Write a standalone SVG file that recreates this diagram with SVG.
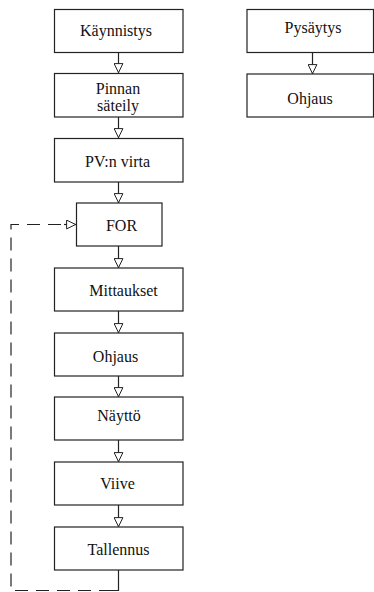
<svg xmlns="http://www.w3.org/2000/svg" width="374" height="592" viewBox="0 0 374 592">
<style>
.box{fill:#fff;stroke:#222;stroke-width:1.2}
.t{font-family:"Liberation Serif","Times New Roman",serif;font-size:16px;fill:#111;text-anchor:middle}
.c{fill:none;stroke:#222;stroke-width:1.2}
.d{fill:none;stroke:#222;stroke-width:1.2;stroke-dasharray:13 8}
</style>
<defs>
<marker id="ah" viewBox="0 0 10 10" refX="10" refY="5" markerWidth="10" markerHeight="10" markerUnits="userSpaceOnUse" orient="auto">
<path d="M0.6,0.6 L9.6,5 L0.6,9.4 Z" fill="#fff" stroke="#222" stroke-width="1"/>
</marker>
</defs>
<g id="connectors">
<line class="c" x1="118.5" y1="52" x2="118.5" y2="73" marker-end="url(#ah)"/>
<line class="c" x1="118.5" y1="117" x2="118.5" y2="138" marker-end="url(#ah)"/>
<line class="c" x1="118.5" y1="182" x2="118.5" y2="203" marker-end="url(#ah)"/>
<line class="c" x1="118.5" y1="246" x2="118.5" y2="268" marker-end="url(#ah)"/>
<line class="c" x1="118.5" y1="311" x2="118.5" y2="333" marker-end="url(#ah)"/>
<line class="c" x1="118.5" y1="376" x2="118.5" y2="397" marker-end="url(#ah)"/>
<line class="c" x1="118.5" y1="440" x2="118.5" y2="462" marker-end="url(#ah)"/>
<line class="c" x1="118.5" y1="505" x2="118.5" y2="527" marker-end="url(#ah)"/>
<line class="c" x1="312.5" y1="52" x2="312.5" y2="74" marker-end="url(#ah)"/>
<polyline class="c" points="118.5,570 118.5,590.5 112,590.5"/>
<polyline class="d" points="112,590.5 11,590.5 11,224.5 66,224.5"/>
<line class="c" x1="64" y1="224.5" x2="76" y2="224.5" marker-end="url(#ah)"/>
</g>
<g id="kaynnistys"><rect class="box" x="54.5" y="9.5" width="128.5" height="43"/><text class="t" x="116" y="36">Käynnistys</text></g>
<g id="pinnan"><rect class="box" x="54.5" y="73.5" width="128.5" height="43.5"/><text class="t" x="118" y="93.5">Pinnan</text><text class="t" x="118" y="110.5">säteily</text></g>
<g id="pv"><rect class="box" x="54.5" y="138.5" width="128.5" height="43.5"/><text class="t" x="117.5" y="166.5">PV:n virta</text></g>
<g id="for"><rect class="box" x="76.5" y="203" width="85.5" height="43"/><text class="t" x="121.5" y="231">FOR</text></g>
<g id="mittaukset"><rect class="box" x="54.5" y="268" width="128.5" height="43"/><text class="t" x="123.5" y="296">Mittaukset</text></g>
<g id="ohjaus1"><rect class="box" x="54.5" y="333" width="128.5" height="43"/><text class="t" x="115.5" y="361.5">Ohjaus</text></g>
<g id="naytto"><rect class="box" x="54.5" y="397" width="128.5" height="43"/><text class="t" x="119" y="420.5">Näyttö</text></g>
<g id="viive"><rect class="box" x="54.5" y="462" width="128.5" height="43"/><text class="t" x="117.5" y="489">Viive</text></g>
<g id="tallennus"><rect class="box" x="54.5" y="527" width="128.5" height="43"/><text class="t" x="118.5" y="554.5">Tallennus</text></g>
<g id="pysaytys"><rect class="box" x="247" y="9.5" width="126.5" height="43"/><text class="t" x="313" y="32.5">Pysäytys</text></g>
<g id="ohjaus2"><rect class="box" x="247" y="74" width="126.5" height="43"/><text class="t" x="310" y="103.5">Ohjaus</text></g>
</svg>
